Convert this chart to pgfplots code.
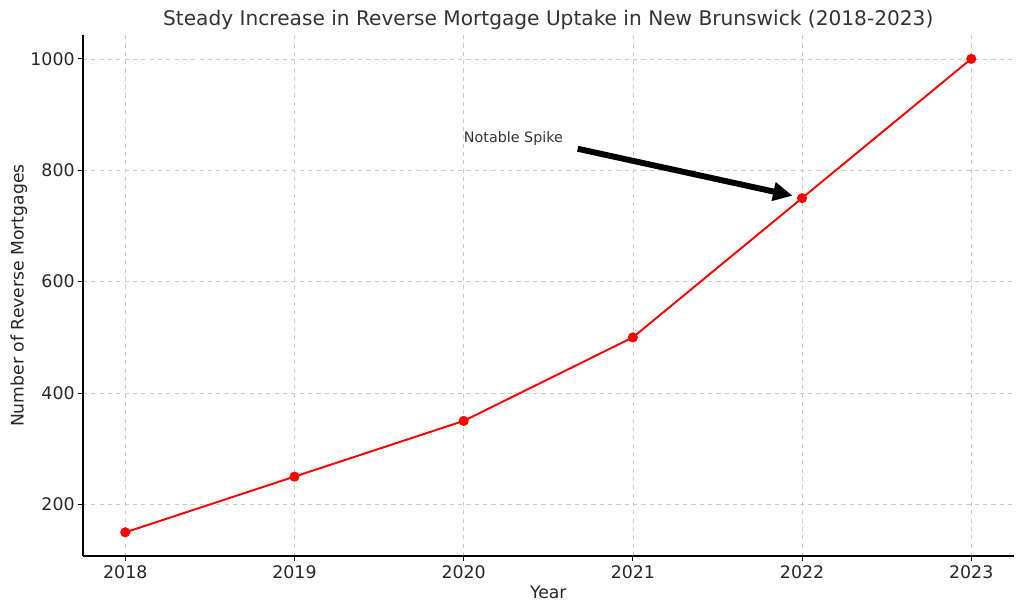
\documentclass[border=0pt]{standalone}
\usepackage{pgfplots}
\pgfplotsset{compat=1.18}
\usepackage{fontspec}
\setmainfont{DejaVu Sans}
\usetikzlibrary{arrows.meta}
\definecolor{txt}{HTML}{333333}
\definecolor{tick}{HTML}{262626}
\definecolor{gridc}{HTML}{CCCCCC}
\begin{document}
\begin{tikzpicture}
  \begin{axis}[
    name=ax,
    scale only axis,
    width=670pt, height=375pt,
    xmin=2017.75, xmax=2023.25,
    ymin=107.5, ymax=1042.5,
    xtick={2018,2019,2020,2021,2022,2023},
    ytick={200,400,600,800,1000},
    /pgf/number format/assume math mode=true,
    /pgf/number format/1000 sep={},
    tick label style={font=\fontsize{12.5}{14}\selectfont, text=tick},
    label style={font=\fontsize{12.4}{14}\selectfont, text=tick},
    xlabel={Year},
    ylabel={Number of Reverse Mortgages},
    title={Steady Increase in Reverse Mortgage Uptake in New Brunswick (2018-2023)},
    title style={font=\fontsize{14.5}{16}\selectfont, text=txt, yshift=-5.5pt},
    axis x line*=bottom, axis y line*=left,
    axis line style={black, line width=0.8pt, -},
    tick style={black, line width=0.6pt},
    major tick length=3.5pt,
    tick align=outside,
    grid=major,
    grid style={gridc, dashed, line width=0.5pt},
    xlabel style={yshift=2pt},
    ylabel style={yshift=-4.5pt},
    yticklabel style={xshift=1pt},
  ]
    \addplot[red, line width=1.4pt, mark=*, mark size=2.9pt, mark options={fill=red, draw=red}]
      coordinates {(2018,150) (2019,250) (2020,350) (2021,500) (2022,750) (2023,1000)};
    \node[anchor=base west, inner sep=0pt, text=txt, font=\fontsize{10.3}{12}\selectfont]
      at (axis cs:2020,850) {Notable Spike};
    \draw[black, line width=4.3pt, -{Triangle[length=14pt, width=13pt]}]
      (axis cs:2020.674,838.6) -- (axis cs:2021.944,754.3);
  \end{axis}
  \pgfresetboundingbox
  \path[use as bounding box] ([shift={(-59.76pt,-39.6pt)}]ax.south west) rectangle ([shift={(677.52pt,400.32pt)}]ax.south west);
\end{tikzpicture}
\end{document}
